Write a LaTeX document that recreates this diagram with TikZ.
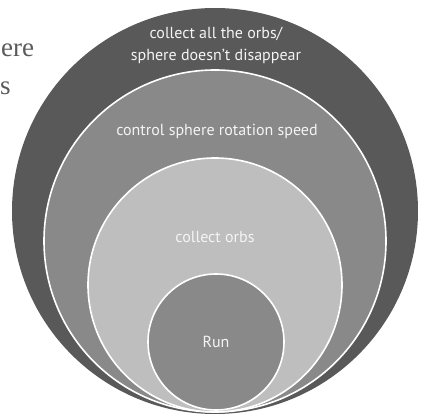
\documentclass[tikz,border=0pt]{standalone}
\usepackage{fontspec}
\setmainfont{PT Sans}
\newfontfamily\serifside{Liberation Serif}
\definecolor{ringA}{HTML}{595959}
\definecolor{ringB}{HTML}{898989}
\definecolor{ringC}{HTML}{BEBEBE}
\definecolor{ringtext}{HTML}{F4F4F4}
\definecolor{sidetext}{HTML}{5A5A5A}
\begin{document}
\begin{tikzpicture}[x=1pt,y=-1pt,
  ring/.style={circle, inner sep=0pt, outer sep=0pt, draw=white, line width=1.6pt},
  ringlabel/.style={text=ringtext, font=\fontsize{16}{22}\selectfont, align=center, inner sep=0pt},
  sidelabel/.style={text=sidetext, font=\serifside\fontsize{27}{30}\selectfont, inner sep=0pt, anchor=base west}]
\path[use as bounding box, clip] (0,0) rectangle (421,414);
\fill[white] (0,0) rectangle (421,414);
\node[ring, fill=ringA, draw=none, minimum size=406pt] (outer) at (215,211) {};
\node[ring, fill=ringB, minimum size=342pt] (second) at (215,241) {};
\node[ring, fill=ringC, minimum size=254pt] (third) at (215,285) {};
\node[ring, fill=ringB, minimum size=136pt] (run) at (216,342) {};
\node[ringlabel] (t1) at (216,45) {collect all the orbs/\\sphere doesn’t disappear};
\node[ringlabel] (t2) at (217,131) {control sphere rotation speed};
\node[ringlabel] (t3) at (215,237) {collect orbs};
\node[ringlabel] (t4) at (216,342) {Run};
\node[sidelabel] (s1) at (1,57) {ere};
\node[sidelabel] (s2) at (0,95) {s};
\end{tikzpicture}
\end{document}
